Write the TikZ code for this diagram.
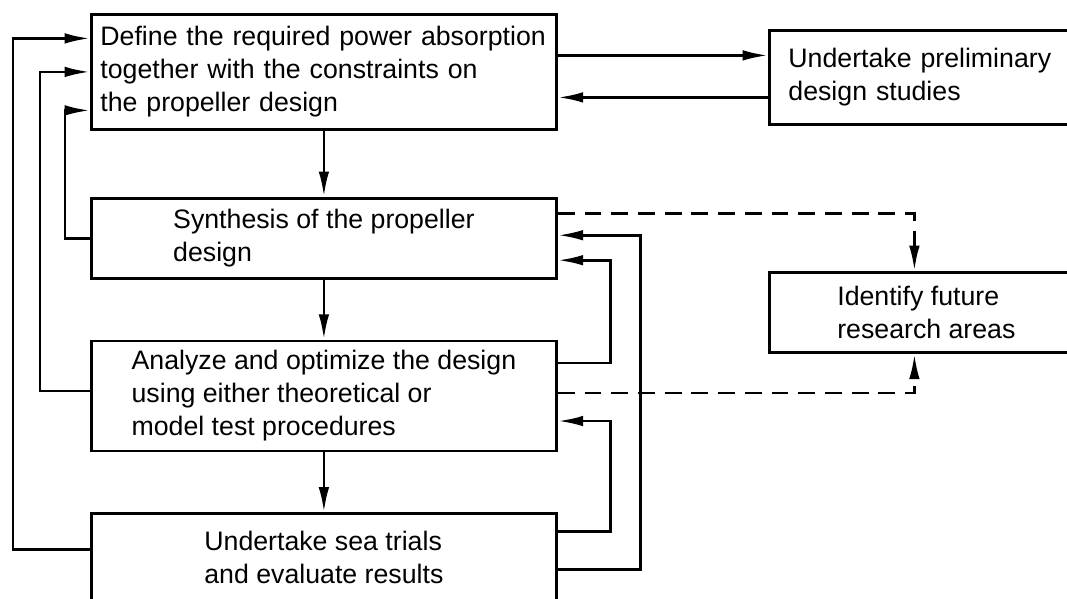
\documentclass[tikz,border=0pt]{standalone}
\usepackage{fontspec}
\setmainfont{Liberation Sans}
\usepackage{tikz}
\usetikzlibrary{arrows.meta,positioning}
\tikzset{
  stage/.style ={rectangle, draw=black, line width=2pt, fill=white,
                 minimum width=11.625cm, inner xsep=0.225cm,
                 align=left, font=\fontsize{19pt}{23.5pt}\selectfont},
  side/.style  ={rectangle, draw=black, line width=2pt, fill=white,
                 anchor=north west, inner xsep=0.475cm,
                 align=left, font=\fontsize{19pt}{23.5pt}\selectfont},
  ar/.style    ={-{Latex[length=18pt,width=7.5pt]}, line width=2pt},
  dar/.style   ={ar, dash pattern=on 12pt off 7pt}
}

\begin{document}
\begin{tikzpicture}[node distance=1.5cm]
\clip (0,0) rectangle (26.675,-14.95);
\node[stage, anchor=north west, minimum height=2.875cm, text width=11.175cm]
  (def) at (2.25,-0.325)
  {Define the required power absorption\\together with the constraints on\\the propeller design};
\node[stage, below=1.65cm of def, minimum height=2cm] (syn)
  {Synthesis of the propeller\\design};
\node[stage, below=1.5cm of syn, minimum height=2.75cm] (ana)
  {Analyze and optimize the design\\using either theoretical or\\model test procedures};
\node[stage, below=of ana, minimum height=2.2cm] (sea)
  {Undertake sea trials\\and evaluate results};
\node[side, minimum width=8.25cm, minimum height=2.35cm, text width=7.3cm]
  (pre) at (19.2,-0.725) {Undertake preliminary\\design studies};
\node[side, minimum width=7.85cm, minimum height=2cm]
  (fut) at (19.2,-6.775) {Identify future\\research areas};
% main chain
\draw[ar] (def.south) -- (syn.north);
\draw[ar] (syn.south) -- (ana.north);
\draw[ar] (ana.south) -- (sea.north);
\draw[ar] ([yshift=0.4125cm]def.east) -- ([yshift=0.55cm]pre.west);
\draw[ar] ([yshift=-0.5cm]pre.west) -- ([yshift=-0.6375cm]def.east);
% feedback on the left
\draw[ar] ([yshift=0.2cm]sea.west) -- ++(-1.925cm,0) |- ([yshift=0.8375cm]def.west);
\draw[ar] ([yshift=0.125cm]ana.west) -- ++(-1.25cm,0) |- (def.west);
\draw[ar] (syn.west) -- ++(-0.625cm,0) |- ([yshift=-0.9625cm]def.west);
% feedback on the right
\draw[ar] ([yshift=0.825cm]ana.east) -- ++(1.325cm,0) |- ([yshift=-0.55cm]syn.east);
\draw[ar] ([yshift=-0.3cm]sea.east) -- ++(2.075cm,0) |- ([yshift=0.075cm]syn.east);
\draw[ar] ([yshift=0.65cm]sea.east) -- ++(1.325cm,0) |- ([yshift=-0.625cm]ana.east);
\draw[dar] ([yshift=0.625cm]syn.east) -| ([xshift=-0.3cm]fut.north);
\draw[dar] ([yshift=0.075cm]ana.east) -| ([xshift=-0.3cm]fut.south);
\end{tikzpicture}
\end{document}
